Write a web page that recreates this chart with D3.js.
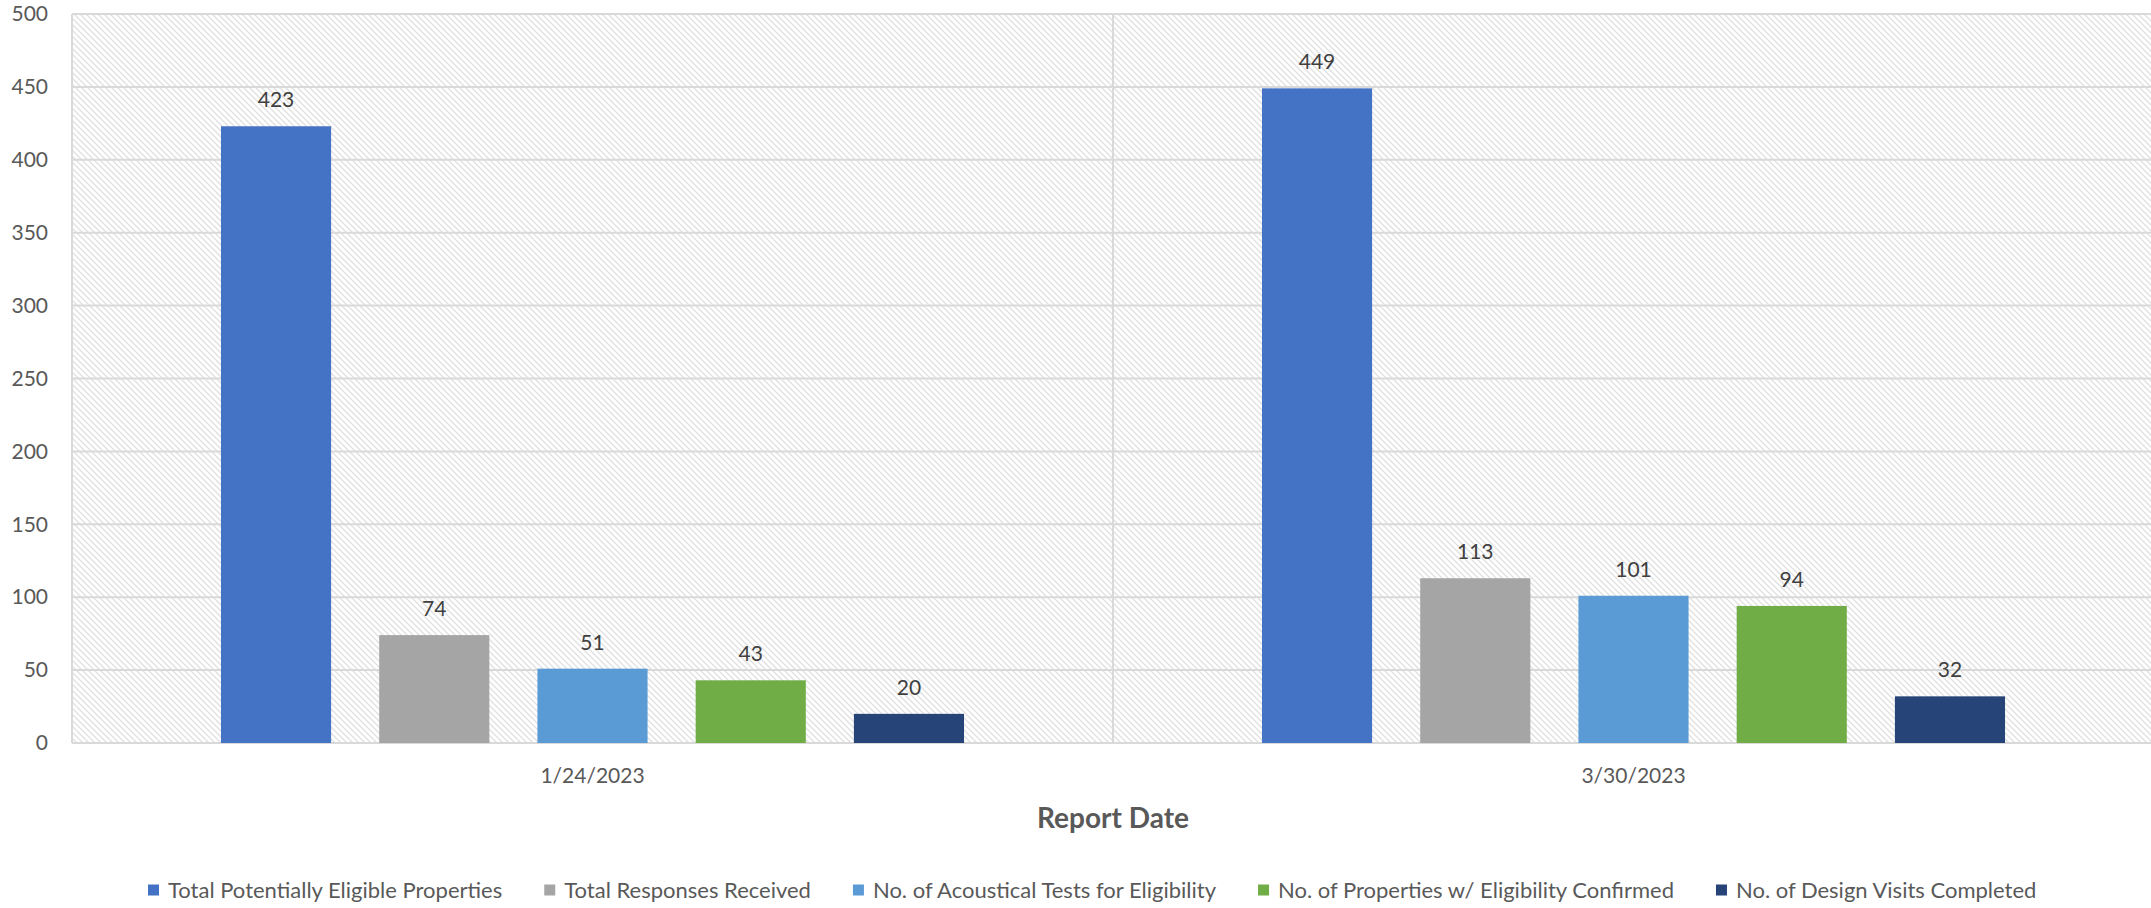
<!DOCTYPE html>
<html><head><meta charset="utf-8">
<script src="https://cdn.jsdelivr.net/npm/d3@7"></script>
<style>
body{margin:0;background:#fff;}
svg{display:block;font-family:Lato,'Open Sans',sans-serif;}
</style>
</head><body>
<svg id="c" width="2151" height="908"></svg>
<script>
// ---- data ----
const categories = ["1/24/2023", "3/30/2023"];
const seriesNames = [
  "Total Potentially Eligible Properties",
  "Total Responses Received",
  "No. of Acoustical Tests for Eligibility",
  "No. of Properties w/ Eligibility Confirmed",
  "No. of Design Visits Completed"
];
const seriesColors = ["#4472C4", "#A5A5A5", "#5B9BD5", "#70AD47", "#264478"];
const totalEligible = [423, 449];
const totalResponses = [74, 113];
const acousticalTests = [51, 101];
const eligibilityConfirmed = [43, 94];
const designVisits = [20, 32];
const yTicks = [0, 50, 100, 150, 200, 250, 300, 350, 400, 450, 500];
const xTitle = "Report Date";

const seriesValues = [totalEligible, totalResponses, acousticalTests, eligibilityConfirmed, designVisits];
const rows = [];
categories.forEach((c, ci) => seriesNames.forEach((s, si) => rows.push({cat: c, series: s, value: seriesValues[si][ci], color: seriesColors[si]})));

// ---- layout ----
const svg = d3.select("#c");
const L = 72, R = 2154, T = 14, B = 743;

const x0 = d3.scaleBand().domain(categories).range([L, R]).padding(0);
const bw = x0.bandwidth();
const x1 = d3.scaleBand().domain(seriesNames).range([bw * 0.1431, bw * (1 - 0.1431)]).paddingInner(0.304).paddingOuter(0);
const y = d3.scaleLinear().domain([0, 500]).range([B, T]);

// hatch pattern
const defs = svg.append("defs");
const pat = defs.append("pattern").attr("id", "hatch").attr("patternUnits", "userSpaceOnUse")
  .attr("width", 6).attr("height", 6);
pat.append("rect").attr("width", 6).attr("height", 6).attr("fill", "#fff");
pat.append("path").attr("d", "M0,0L6,6M-1,5L1,7M5,-1L7,1")
  .attr("stroke", "#e0e0e0").attr("stroke-width", 1.3);

svg.append("rect").attr("x", L).attr("y", T).attr("width", R - L).attr("height", B - T).attr("fill", "url(#hatch)");

// gridlines
svg.append("g").selectAll("line").data(yTicks).join("line")
  .attr("x1", L).attr("x2", R).attr("y1", d => y(d)).attr("y2", d => y(d))
  .attr("stroke", "#d9d9d9").attr("stroke-width", 2);
const vlines = categories.map(c => x0(c)).concat([R]);
svg.append("g").selectAll("line").data(vlines).join("line")
  .attr("x1", d => d).attr("x2", d => d).attr("y1", T).attr("y2", B)
  .attr("stroke", "#d9d9d9").attr("stroke-width", 2);

// y axis
const ya = svg.append("g").attr("transform", `translate(${L},0)`)
  .call(d3.axisLeft(y).tickValues(yTicks).tickSize(0).tickPadding(24));
ya.select(".domain").remove();
ya.selectAll("text").attr("font-family", "Lato").attr("font-size", 21).attr("fill", "#595959");

// x axis
const xa = svg.append("g").attr("transform", `translate(0,${B})`)
  .call(d3.axisBottom(x0).tickSize(0).tickPadding(25));
xa.select(".domain").remove();
xa.selectAll("text").attr("font-family", "Lato").attr("font-size", 21).attr("fill", "#595959");

// bars
svg.append("g").selectAll("rect").data(rows).join("rect")
  .attr("x", d => x0(d.cat) + x1(d.series))
  .attr("width", x1.bandwidth())
  .attr("y", d => y(d.value))
  .attr("height", d => y(0) - y(d.value))
  .attr("fill", d => d.color);

// labels
svg.append("g").selectAll("text").data(rows).join("text")
  .attr("x", d => x0(d.cat) + x1(d.series) + x1.bandwidth() / 2)
  .attr("y", d => y(d.value) - 19)
  .attr("text-anchor", "middle").attr("font-size", 21).attr("fill", "#404040")
  .text(d => d.value);

// x title
svg.append("text").attr("x", (L + R) / 2).attr("y", 818).attr("dy", "0.35em")
  .attr("text-anchor", "middle").attr("font-size", 28).attr("font-weight", "bold")
  .attr("fill", "#595959").text(xTitle);

// legend
const lg = svg.append("g");
let lx = 148;
const ly = 890;
seriesNames.forEach((s, i) => {
  lg.append("rect").attr("x", lx).attr("y", ly - 5.5).attr("width", 11).attr("height", 11).attr("fill", seriesColors[i]);
  const t = lg.append("text").attr("x", lx + 20).attr("y", ly).attr("dy", "0.35em")
    .attr("font-size", 22).attr("fill", "#595959").text(s);
  lx += 20 + t.node().getComputedTextLength() + 42;
});
</script>
</body></html>
